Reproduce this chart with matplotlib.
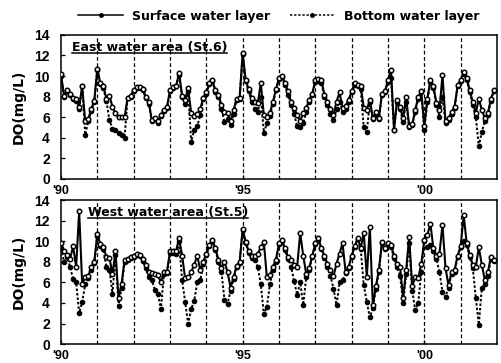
import numpy as np
import matplotlib
matplotlib.use("Agg")
import matplotlib.pyplot as plt
from matplotlib.lines import Line2D

plt.rcParams["font.family"] = ["Liberation Sans", "DejaVu Sans"]
plt.rcParams["font.weight"] = "bold"

# ============================================================
# Data: monthly DO (mg/L), Jan 1990 - Dec 2001
# ============================================================
years = list(range(1990, 2002))

east_surface = [
    10.2, 8.1, 8.6, 8.3, 7.9, 7.8, 7.0, 9.0, 5.6, 5.8, 6.8, 7.6,
    10.7, 9.3, 9.0, 7.8, 8.1, 7.0, 6.4, 6.0, 6.0, 6.0, 7.9, 8.1,
    8.6, 8.9, 8.9, 8.7, 8.0, 7.5, 5.7, 5.9, 5.6, 6.2, 6.7, 7.0,
    8.6, 8.9, 9.0, 10.3, 8.1, 7.7, 8.8, 6.4, 6.1, 6.3, 6.8, 7.9,
    8.4, 9.3, 9.6, 8.6, 8.2, 7.2, 6.5, 6.4, 5.6, 6.7, 7.8, 7.9,
    12.2, 9.6, 8.7, 7.9, 7.5, 7.4, 9.3, 6.2, 6.0, 6.4, 7.5, 8.7,
    9.8, 10.0, 9.3, 8.5, 7.5, 6.9, 6.2, 5.6, 6.4, 6.9, 7.7, 8.3,
    9.6, 9.7, 9.6, 8.2, 7.5, 6.8, 6.2, 7.5, 8.4, 6.9, 7.1, 7.7,
    8.5, 9.3, 9.1, 9.0, 6.9, 6.7, 7.7, 5.9, 6.5, 5.9, 8.3, 8.5,
    9.6, 10.6, 4.8, 7.7, 7.0, 5.9, 8.0, 5.1, 5.3, 6.7, 8.0, 8.5,
    5.1, 7.8, 9.6, 9.0, 7.4, 6.7, 10.1, 5.6, 5.9, 6.5, 7.0, 9.1,
    9.6, 10.4, 9.8, 8.6, 7.5, 6.4, 7.8, 6.7, 5.9, 6.4, 7.8, 8.6,
]
east_bottom = [
    10.0, 8.0, 8.5, 8.2, 7.8, 7.6, 6.8, 9.0, 4.3, 5.6, 6.6, 7.5,
    10.6, 9.2, 8.8, 7.6, 5.7, 4.9, 4.8, 4.5, 4.3, 4.0, 7.9, 8.0,
    8.5, 8.8, 8.8, 8.6, 7.9, 7.3, 5.6, 5.8, 5.4, 6.1, 6.6, 6.9,
    8.5, 8.8, 9.0, 10.1, 8.0, 7.3, 8.5, 3.6, 4.8, 5.1, 6.2, 7.8,
    8.3, 9.2, 9.5, 8.4, 8.0, 6.8, 5.5, 5.8, 5.2, 6.3, 7.7, 7.8,
    12.1, 9.5, 8.5, 7.5, 6.8, 6.5, 8.0, 4.5, 5.4, 6.1, 7.3, 8.6,
    9.7, 9.9, 9.1, 8.2, 7.2, 6.3, 5.1, 5.0, 5.4, 6.5, 7.5, 8.2,
    9.4, 9.5, 9.3, 8.0, 7.2, 6.3, 5.7, 6.8, 7.5, 6.5, 6.8, 7.5,
    8.4, 9.1, 9.0, 8.7, 5.0, 4.6, 7.5, 5.8, 6.2, 5.8, 8.2, 8.4,
    9.4, 9.8, 4.8, 7.5, 6.8, 5.5, 7.5, 5.0, 5.2, 6.5, 7.8, 8.4,
    4.8, 7.5, 9.4, 8.8, 7.2, 6.0, 8.0, 5.4, 5.7, 6.3, 6.9, 9.0,
    9.5, 10.2, 9.6, 8.4, 7.2, 6.0, 3.2, 4.6, 5.6, 6.2, 7.6, 8.5,
]
west_surface = [
    9.8, 9.0, 8.7, 8.3, 9.5, 7.5, 12.9, 5.8, 6.5, 6.6, 7.5, 8.0,
    10.7, 9.7, 9.4, 8.5, 8.4, 6.8, 9.0, 4.5, 5.8, 8.2, 8.3, 8.5,
    8.6, 8.8, 8.7, 8.3, 7.7, 7.0, 6.9, 6.8, 6.7, 6.0, 7.0, 7.0,
    9.0, 9.0, 9.0, 10.3, 8.6, 6.4, 6.5, 7.0, 7.7, 8.6, 7.2, 8.0,
    8.8, 9.6, 10.1, 9.3, 8.2, 7.4, 8.0, 7.0, 5.5, 6.5, 7.6, 8.0,
    11.2, 9.9, 9.0, 8.6, 8.6, 8.8, 9.4, 9.9, 6.5, 6.7, 7.5, 8.2,
    9.8, 10.1, 9.3, 8.5, 8.2, 7.7, 7.5, 10.8, 8.6, 6.8, 7.4, 8.6,
    9.8, 10.3, 9.3, 8.6, 7.8, 7.2, 6.6, 7.8, 8.8, 9.8, 7.0, 7.5,
    8.6, 9.5, 10.3, 9.3, 10.8, 6.5, 11.4, 3.8, 5.6, 7.2, 9.9, 9.3,
    9.8, 9.6, 8.6, 7.8, 7.5, 4.5, 7.2, 10.4, 5.6, 6.5, 6.4, 7.8,
    10.1, 10.6, 11.7, 9.3, 8.6, 8.8, 11.6, 7.4, 5.7, 7.0, 7.2, 8.6,
    9.5, 12.5, 9.8, 8.7, 7.7, 7.5, 9.4, 7.7, 6.2, 7.0, 8.5, 8.2,
]
west_bottom = [
    9.3, 8.0, 8.5, 7.5, 6.3, 6.0, 3.0, 4.1, 5.8, 6.4, 7.2, 7.9,
    10.5, 9.5, 9.2, 7.5, 7.2, 4.9, 8.7, 3.7, 5.5, 8.0, 8.2, 8.4,
    8.5, 8.7, 8.6, 8.1, 7.4, 6.5, 6.2, 5.3, 4.9, 3.4, 6.8, 6.9,
    8.9, 8.9, 8.8, 10.0, 6.2, 4.1, 2.0, 3.4, 4.2, 6.0, 6.2, 7.8,
    8.7, 9.5, 10.0, 9.1, 8.0, 7.0, 4.3, 3.9, 5.2, 6.3, 7.5, 7.9,
    11.1, 9.8, 8.9, 8.4, 8.2, 7.5, 5.8, 2.9, 3.6, 5.8, 7.2, 8.0,
    9.7, 10.0, 9.1, 8.3, 7.5, 6.1, 4.8, 6.0, 3.8, 6.5, 7.2, 8.5,
    9.7, 10.1, 9.2, 8.4, 7.5, 6.6, 5.4, 3.8, 6.0, 6.2, 6.9, 7.4,
    8.5, 9.4, 10.2, 9.2, 5.7, 4.1, 2.6, 3.5, 5.4, 7.0, 9.8, 9.2,
    9.7, 9.4, 8.4, 7.5, 6.6, 4.0, 6.8, 9.8, 5.2, 3.3, 4.0, 7.0,
    10.0, 9.4, 9.6, 9.0, 8.3, 7.0, 5.1, 4.6, 5.5, 6.8, 7.0, 8.5,
    9.4, 10.0, 9.6, 8.5, 7.4, 4.5, 1.9, 5.5, 5.8, 6.6, 8.3, 8.1,
]

yticks = [0, 2, 4, 6, 8, 10, 12, 14]
xtick_years = [1990, 1995, 2000]
xtick_labels = ["'90", "'95", "'00"]

t = years[0] + np.arange(len(east_surface)) / 12.0

# ============================================================
# Figure
# ============================================================
fig = plt.figure(figsize=(5.02, 3.63), dpi=100, facecolor='white')
ax_top = fig.add_axes([0.1215, 0.507, 0.8685, 0.397])
ax_bot = fig.add_axes([0.1215, 0.052, 0.8685, 0.397])

FS_TICK = 10
FS_XTICK = 9
FS_YLAB = 10
FS_LAB = 9
WIDE = ["DejaVu Sans"]

surf_kw = dict(color='black', lw=1.5, marker='o', ms=3.2, mfc='white', mec='black', mew=1.1)
bot_kw = dict(color='black', lw=1.4, ls=(0, (1.3, 1.0)), marker='o', ms=3.2, mfc='black',
              mec='black', mew=0.8)

panels = [
    (ax_top, east_surface, east_bottom, 'East water area (St.6)', 0.025),
    (ax_bot, west_surface, west_bottom, 'West water area (St.5)', 0.062),
]
for ax, surf, bott, label, lx in panels:
    for yr in years[1:]:
        ax.axvline(yr, color='black', lw=0.9, ls=(0, (3, 2)), zorder=1)
    ax.plot(t, bott, zorder=3, **bot_kw)
    ax.plot(t, surf, zorder=4, **surf_kw)
    ax.set_xlim(1990, 2002)
    ax.set_ylim(0, 14)
    ax.set_yticks(yticks)
    ax.set_xticks(xtick_years)
    ax.set_xticklabels(xtick_labels)
    ax.tick_params(axis='y', direction='in', length=3, width=0.9, labelsize=FS_TICK, pad=8)
    ax.tick_params(axis='x', direction='in', length=3, width=0.9, labelsize=FS_XTICK, pad=4)
    for lab in ax.get_xticklabels() + ax.get_yticklabels():
        lab.set_fontweight('bold')
    for sp in ax.spines.values():
        sp.set_linewidth(1.1)
    ax.set_ylabel('DO(mg/L)', fontsize=FS_YLAB, fontweight='bold', family=WIDE, labelpad=6)
    txt = ax.text(lx, 0.955, label, transform=ax.transAxes, fontsize=FS_LAB, family=WIDE,
                  fontweight='bold', ha='left', va='top', zorder=6)
    ax._panel_label = txt

# underline the panel labels
fig.canvas.draw()
inv = fig.transFigure.inverted()
for ax in (ax_top, ax_bot):
    bb = ax._panel_label.get_window_extent()
    (x0, y0), (x1, _) = inv.transform([(bb.x0, bb.y0), (bb.x1, bb.y1)])
    fig.add_artist(Line2D([x0, x1], [y0 + 0.004, y0 + 0.004], color='black', lw=1.1,
                          transform=fig.transFigure))

# legend on top
handles = [
    Line2D([0], [0], color='black', lw=1.1, marker='o', ms=2.5, mfc='black',
           label='Surface water layer'),
    Line2D([0], [0], color='black', lw=1.1, ls=(0, (1.5, 1.2)), marker='o', ms=2.5,
           mfc='black', label='Bottom water layer'),
]
leg = fig.legend(handles=handles, loc='center', bbox_to_anchor=(0.555, 0.955), ncol=2,
                 frameon=False, prop=dict(family=WIDE, weight='bold', size=FS_LAB),
                 handlelength=3.6, handletextpad=0.7, columnspacing=1.6)

fig.savefig('out.png', dpi=100, facecolor='white')
